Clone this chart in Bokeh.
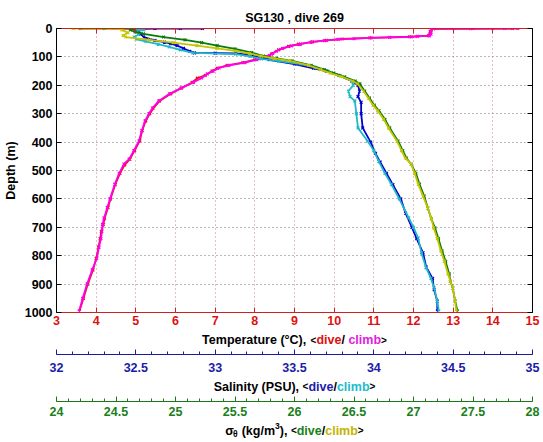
from bokeh.plotting import figure
from bokeh.layouts import column
from bokeh.models import Range1d, LinearAxis, FixedTicker
from bokeh.core.properties import value
from bokeh.embed import file_html
from bokeh.resources import INLINE

# ---------------- data ----------------
title_text = "SG130 , dive 269"
temp_ticks = [3, 4, 5, 6, 7, 8, 9, 10, 11, 12, 13, 14, 15]
depth_ticks = [0, 100, 200, 300, 400, 500, 600, 700, 800, 900, 1000]
sal_ticks = [32, 32.5, 33, 33.5, 34, 34.5, 35]
sal_tick_labels = ["32", "32.5", "33", "33.5", "34", "34.5", "35"]
sig_ticks = [24, 24.5, 25, 25.5, 26, 26.5, 27, 27.5, 28]
sig_tick_labels = ["24", "24.5", "25", "25.5", "26", "26.5", "27", "27.5", "28"]

# Temperature, dive (red)
temp_dive_depth = [0, 0, 1, 10, 25, 29, 33, 37, 42, 47, 55, 63, 75, 90, 100, 110, 120, 130, 140, 150,
                   165, 175, 190, 210, 230, 255, 280, 300, 325, 360, 395, 430, 460, 480, 510, 550,
                   600, 630, 670, 690, 715, 740, 770, 810, 850, 900, 950, 995]
temp_dive = [14.5, 13.5, 12.5, 12.42, 12.38, 11.9, 10.9, 10.2, 9.8, 9.45, 9.1, 8.85, 8.6, 8.42, 8.28,
             8.0, 7.7, 7.3, 7.05, 6.92, 6.75, 6.55, 6.42, 6.14, 5.88, 5.6, 5.45, 5.35, 5.25, 5.16,
             5.1, 4.97, 4.85, 4.72, 4.6, 4.48, 4.36, 4.3, 4.21, 4.18, 4.13, 4.1, 4.06, 4.0, 3.92,
             3.79, 3.68, 3.58]
# Temperature, climb (magenta)
temp_climb_depth = [0, 0, 0, 1, 0, 1, 5, 12, 20, 26, 28, 30, 31, 33, 36, 38, 43, 48, 55, 61, 70, 80,
                    88, 95, 100, 105, 110, 120, 130, 139, 150, 160, 174, 190, 209, 230, 255, 280,
                    300, 326, 360, 396, 430, 460, 477, 510, 548, 600, 630, 667, 690, 713, 740, 770,
                    808, 850, 900, 950, 995]
temp_climb = [14.63, 14.3, 14.0, 13.44, 13.0, 12.51, 12.45, 12.44, 12.44, 12.4, 12.1, 11.94, 11.4,
              10.93, 10.5, 10.1, 9.75, 9.42, 9.15, 8.92, 8.7, 8.54, 8.45, 8.37, 8.3, 8.2, 8.05,
              7.75, 7.35, 7.1, 6.95, 6.8, 6.66, 6.45, 6.16, 5.85, 5.58, 5.42, 5.33, 5.23, 5.15,
              5.08, 4.95, 4.83, 4.7, 4.58, 4.47, 4.35, 4.28, 4.2, 4.16, 4.15, 4.12, 4.07, 4.02,
              3.9, 3.77, 3.66, 3.57]

# Salinity, dive (blue)
sal_dive_depth = [0, 0, 0, 2, 10, 20, 30, 42, 48, 53, 60, 70, 80, 86, 87, 88, 92, 100, 110, 125, 140,
                  150, 165, 185, 200, 220, 240, 260, 300, 350, 400, 440, 470, 510, 550, 600, 650,
                  700, 740, 790, 840, 880, 920, 960, 995]
sal_dive = [32.92, 32.78, 32.62, 32.5, 32.52, 32.53, 32.55, 32.62, 32.68, 32.72, 32.76, 32.8, 32.84,
            32.87, 33.0, 33.13, 33.2, 33.26, 33.34, 33.5, 33.62, 33.7, 33.78, 33.86, 33.9, 33.91,
            33.9, 33.92, 33.92, 33.93, 33.98, 34.01, 34.04, 34.08, 34.12, 34.17, 34.2, 34.24,
            34.27, 34.31, 34.33, 34.37, 34.38, 34.4, 34.4]
# Salinity, climb (cyan)
sal_climb_depth = [0, 5, 10, 20, 30, 37, 45, 55, 65, 75, 86, 90, 98, 107, 115, 125, 137, 150, 167,
                   185, 200, 220, 240, 255, 300, 350, 396, 430, 467, 510, 548, 600, 667, 700, 738,
                   790, 843, 880, 914, 960, 995]
sal_climb = [32.48, 32.55, 32.5, 32.52, 32.49, 32.5, 32.56, 32.64, 32.71, 32.78, 32.86, 33.13, 33.22,
             33.29, 33.4, 33.54, 33.63, 33.71, 33.79, 33.86, 33.87, 33.84, 33.85, 33.88, 33.89,
             33.9, 33.96, 34.0, 34.03, 34.07, 34.11, 34.16, 34.22, 34.25, 34.28, 34.3, 34.33,
             34.36, 34.38, 34.4, 34.41]

# Sigma-theta, dive (green)
sig_dive_depth = [0, 0, 1, 5, 12, 19, 30, 40, 50, 60, 72, 85, 97, 105, 114, 130, 145, 157, 170, 185,
                  195, 220, 245, 270, 290, 320, 350, 396, 430, 456, 477, 510, 548, 590, 632, 670,
                  702, 740, 783, 820, 864, 890, 914, 960, 995]
sig_dive = [24.2, 24.4, 24.65, 24.62, 24.66, 24.73, 24.9, 25.08, 25.22, 25.35, 25.5, 25.64, 25.74,
            25.85, 25.98, 26.14, 26.25, 26.33, 26.42, 26.51, 26.55, 26.59, 26.63, 26.67, 26.71,
            26.76, 26.8, 26.87, 26.91, 26.94, 26.98, 27.02, 27.05, 27.09, 27.12, 27.15, 27.18,
            27.21, 27.24, 27.27, 27.3, 27.31, 27.33, 27.35, 27.37]
# Sigma-theta, climb (yellow)
sig_climb_depth = [0, 0, 0, 1, 5, 15, 25, 30, 40, 50, 60, 70, 79, 88, 97, 105, 114, 130, 145, 157,
                   170, 185, 195, 220, 245, 270, 290, 320, 350, 396, 430, 456, 477, 510, 548, 590,
                   632, 670, 702, 740, 783, 820, 864, 890, 914, 960, 995]
sig_climb = [24.14, 24.3, 24.45, 24.53, 24.55, 24.6, 24.56, 24.58, 24.78, 24.98, 25.18, 25.35, 25.5,
             25.62, 25.72, 25.83, 25.96, 26.12, 26.22, 26.3, 26.4, 26.49, 26.53, 26.58, 26.62,
             26.66, 26.7, 26.75, 26.79, 26.86, 26.9, 26.93, 26.98, 27.01, 27.04, 27.08, 27.12,
             27.15, 27.17, 27.2, 27.23, 27.26, 27.29, 27.31, 27.33, 27.35, 27.36]

# ---------------- style ----------------
FONT = "Liberation Sans"
FSN = 12.5
FS = "12.5px"
RED_TXT = "#dd1111"
RED_AX = "#cc2222"
MAG_TXT = "#e020e0"
BLUE_TXT = "#1c1ca8"
CYAN_TXT = "#22bccc"
GREEN_TXT = "#1a801a"
YEL_TXT = "#c4b400"

C_RED = "#ee1111"
C_MAG = "#ff00ee"
C_BLUE = "#0000cc"
C_CYAN = "#22b8c8"
C_GREEN = "#0a7a0a"
C_YEL = "#c4c400"

WIDTH = 543
ML, MR = 54, 11


def style_axis(ax, color, label_color):
    ax.axis_line_color = color
    ax.major_tick_line_color = color
    ax.minor_tick_line_color = color
    ax.major_tick_in = 5
    ax.major_tick_out = 0
    ax.minor_tick_in = 3
    ax.minor_tick_out = 0
    ax.major_label_text_font = FONT
    ax.major_label_text_font_style = "bold"
    ax.major_label_text_font_size = FS
    ax.major_label_text_color = label_color
    ax.axis_label_text_font = FONT
    ax.axis_label_text_font_size = FS
    ax.axis_label_text_font_style = "bold"


def strip(height, xr, mb, with_axis):
    f = figure(width=WIDTH, height=height, output_backend="svg", toolbar_location=None,
               x_range=xr, y_range=Range1d(0, 1),
               min_border_left=ML, min_border_right=MR, min_border_top=0, min_border_bottom=mb,
               x_axis_location="below" if with_axis else None, y_axis_location=None)
    f.grid.visible = False
    f.outline_line_color = None
    f.background_fill_color = "white"
    f.border_fill_color = "white"
    return f


WID = {' ': 278, '\u00a0': 278, '(': 333, ')': 333, ',': 278, '/': 278, '<': 584, '>': 584,
       '\u00b0': 400, 'A': 722, 'C': 722, 'P': 667, 'S': 667, 'T': 611, 'U': 722,
       'a': 556, 'b': 611, 'c': 556, 'd': 611, 'e': 556, 'g': 611, 'i': 278, 'k': 556,
       'l': 278, 'm': 889, 'n': 611, 'p': 611, 'r': 389, 't': 333, 'u': 611, 'v': 556,
       'y': 556, '\u03c3': 620, '\u03b8': 611}


def tw(s, size):
    return sum(WID.get(ch, 556) for ch in s) / 1000.0 * size


def colored_title(f, cx, cy, segs):
    total = sum(tw(s, sz) for s, c, sz, dy in segs)
    off = -total / 2.0
    for s, c, sz, dy in segs:
        f.text(x=[cx], y=[cy], text=[s], x_offset=off, y_offset=dy, text_align="left",
               text_baseline="alphabetic", text_font=value(FONT), text_font_style="bold",
               text_font_size=value(f"{sz}px"), text_color=c)
        off += tw(s, sz)


# ---------------- main plot (0..330) ----------------
p = figure(width=WIDTH, height=330, output_backend="svg", toolbar_location=None,
           x_range=Range1d(3, 15), y_range=Range1d(1000, 0),
           min_border_left=ML, min_border_right=MR, min_border_top=28, min_border_bottom=18)
p.extra_x_ranges = {"sal": Range1d(32, 35), "sig": Range1d(24, 28)}
p.background_fill_color = "white"
p.border_fill_color = "white"
p.outline_line_color = "black"

p.xgrid.ticker = FixedTicker(ticks=temp_ticks)
p.ygrid.ticker = FixedTicker(ticks=depth_ticks)
p.xgrid.grid_line_color = "#c88080"
p.ygrid.grid_line_color = "#707070"
p.xgrid.grid_line_dash = "1 3"
p.ygrid.grid_line_dash = "1 3"

xa = p.xaxis[0]
xa.ticker = FixedTicker(ticks=temp_ticks)
style_axis(xa, RED_AX, RED_TXT)
xa.major_label_standoff = 3

# top axis: ticks only, carries the plot title as its label
ta = LinearAxis(ticker=FixedTicker(ticks=temp_ticks))
style_axis(ta, RED_AX, RED_TXT)
ta.major_label_overrides = {t: "" for t in temp_ticks}
ta.major_label_text_font_size = "0px"
ta.major_label_standoff = 0
ta.axis_label = title_text
ta.axis_label_text_color = "black"
ta.axis_label_standoff = 4
p.add_layout(ta, "above")

ya = p.yaxis[0]
ya.ticker = FixedTicker(ticks=depth_ticks)
style_axis(ya, "black", "black")
ya.major_label_standoff = 4
ya.axis_label = "Depth (m)"
ya.axis_label_standoff = 4
ya.axis_label_text_color = "black"

ra = LinearAxis(ticker=FixedTicker(ticks=depth_ticks))
style_axis(ra, "black", "black")
ra.major_label_overrides = {t: "" for t in depth_ticks}
ra.major_label_standoff = 0
p.add_layout(ra, "right")

series = [
    (temp_dive, temp_dive_depth, C_RED, "default"),
    (temp_climb, temp_climb_depth, C_MAG, "default"),
    (sal_dive, sal_dive_depth, C_BLUE, "sal"),
    (sal_climb, sal_climb_depth, C_CYAN, "sal"),
    (sig_dive, sig_dive_depth, C_GREEN, "sig"),
    (sig_climb, sig_climb_depth, C_YEL, "sig"),
]
for xs, ds, col, rn in series:
    p.line(x=xs, y=ds, line_color=col, line_width=1.8, x_range_name=rn)
    p.scatter(x=xs, y=ds, marker="x", size=4, line_color=col, line_width=1.2, x_range_name=rn)

# ---------------- temperature title + salinity axis (330..377) ----------------
f2 = strip(47, Range1d(32, 35), 23, True)
sa = f2.xaxis[0]
sa.ticker = FixedTicker(ticks=sal_ticks, minor_ticks=[round(32 + 0.1 * i, 1) for i in range(31)])
style_axis(sa, "#1c1c9a", BLUE_TXT)
sa.major_label_overrides = dict(zip(sal_ticks, sal_tick_labels))
sa.major_label_standoff = 8
colored_title(f2, 33.5, 0.604, [("Temperature (\u00b0C), ", "black", FSN, 0), ("<", "black", 10, 0),
                                ("dive", RED_TXT, FSN, 0), ("/ ", "black", FSN, 0),
                                ("climb", MAG_TXT, FSN, 0), (">", "black", 10, 0)])

# ---------------- salinity title + sigma axis (377..421) ----------------
f3 = strip(44, Range1d(24, 28), 20, True)
ga = f3.xaxis[0]
ga.ticker = FixedTicker(ticks=sig_ticks, minor_ticks=[round(24 + 0.1 * i, 1) for i in range(41)])
style_axis(ga, "#1a7a1a", GREEN_TXT)
ga.major_label_overrides = dict(zip(sig_ticks, sig_tick_labels))
ga.major_label_standoff = 5
colored_title(f3, 26, 0.625, [("Salinity (PSU), ", "black", FSN, 0), ("<", "black", 10, 0),
                              ("dive", BLUE_TXT, FSN, 0), ("/", "black", FSN, 0),
                              ("climb", CYAN_TXT, FSN, 0), (">", "black", 10, 0)])

# ---------------- sigma title (421..442) ----------------
f4 = strip(21, Range1d(24, 28), 0, False)
colored_title(f4, 26, 0.548, [("\u03c3", "black", FSN, 0), ("\u03b8", "black", 8.5, 3.5),
                              ("\u00a0(kg/m", "black", FSN, 0), ("3", "black", 8.5, -5),
                              ("), ", "black", FSN, 0), ("<", "black", 10, 0),
                              ("dive", GREEN_TXT, FSN, 0), ("/", "black", FSN, 0),
                              ("climb", YEL_TXT, FSN, 0), (">", "black", 10, 0)])

layout = column(p, f2, f3, f4, spacing=0)
open("out.html", "w").write(file_html(layout, INLINE))
